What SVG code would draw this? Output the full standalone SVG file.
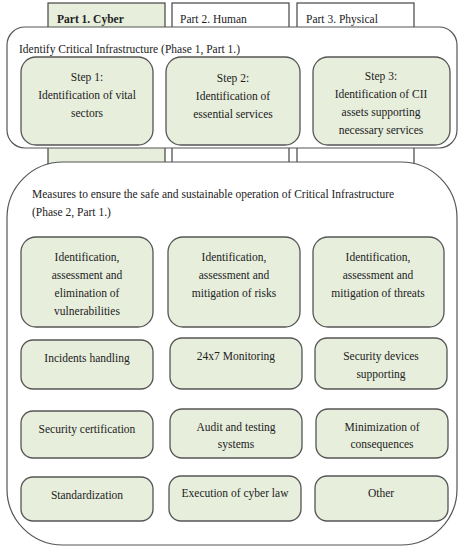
<svg xmlns="http://www.w3.org/2000/svg" width="465" height="550" viewBox="0 0 465 550">
<style>
text{font-family:"Liberation Serif","DejaVu Serif",serif;font-size:11.5px;fill:#222}
.c{text-anchor:middle}
.b{font-weight:bold}
.tab{fill:#fff;stroke:#444;stroke-width:1.2}
.tabg{fill:#e7eedc;stroke:#444;stroke-width:1.2}
.frame{fill:#fff;stroke:#555;stroke-width:1.2}
.box{fill:#e7eedc;stroke:#555;stroke-width:1.3}
</style>
<rect width="465" height="550" fill="#fff"/>
<g id="tabs">
<g id="tab1"><rect class="tabg" x="48" y="3" width="117" height="165"/><text class="b" x="57" y="23">Part 1. Cyber</text></g>
<g id="tab2"><rect class="tab" x="172" y="3" width="117" height="165"/><text x="180" y="23">Part 2. Human</text></g>
<g id="tab3"><rect class="tab" x="297" y="3" width="117" height="165"/><text x="306" y="23">Part 3. Physical</text></g>
</g>
<g id="phase1">
<rect class="frame" x="7" y="27" width="450" height="121" rx="18"/>
<text x="19" y="53">Identify Critical Infrastructure (Phase 1, Part 1.)</text>
</g>
<g id="step1"><rect class="box" x="21" y="57" width="132" height="88" rx="15"/>
<text class="c" x="87" y="81">Step 1:</text><text class="c" x="87" y="99">Identification of vital</text><text class="c" x="87" y="117">sectors</text></g>
<g id="step2"><rect class="box" x="166" y="57" width="134" height="88" rx="15"/>
<text class="c" x="233" y="82">Step 2:</text><text class="c" x="233" y="100">Identification of</text><text class="c" x="233" y="118">essential services</text></g>
<g id="step3"><rect class="box" x="313" y="57" width="137" height="88" rx="15"/>
<text class="c" x="381" y="80">Step 3:</text><text class="c" x="381" y="98">Identification of CII</text><text class="c" x="381" y="116">assets supporting</text><text class="c" x="381" y="134">necessary services</text></g>
<g id="phase2">
<rect class="frame" x="7" y="162" width="450" height="383" rx="56"/>
<text x="32" y="198">Measures to ensure the safe and sustainable operation of Critical Infrastructure</text>
<text x="32" y="216">(Phase 2, Part 1.)</text>
</g>
<g id="m1"><rect class="box" x="21" y="237" width="132" height="90" rx="15"/>
<text class="c" x="87" y="261">Identification,</text><text class="c" x="87" y="279">assessment and</text><text class="c" x="87" y="297">elimination of</text><text class="c" x="87" y="315">vulnerabilities</text></g>
<g id="m2"><rect class="box" x="168" y="237" width="132" height="90" rx="15"/>
<text class="c" x="234" y="261">Identification,</text><text class="c" x="234" y="279">assessment and</text><text class="c" x="234" y="297">mitigation of risks</text></g>
<g id="m3"><rect class="box" x="313" y="237" width="131" height="90" rx="15"/>
<text class="c" x="378" y="261">Identification,</text><text class="c" x="378" y="279">assessment and</text><text class="c" x="378" y="297">mitigation of threats</text></g>
<g id="m4"><rect class="box" x="21" y="340" width="132" height="49" rx="12"/>
<text class="c" x="87" y="362">Incidents handling</text></g>
<g id="m5"><rect class="box" x="170" y="338" width="132" height="51" rx="12"/>
<text class="c" x="236" y="360">24x7 Monitoring</text></g>
<g id="m6"><rect class="box" x="315" y="338" width="132" height="51" rx="12"/>
<text class="c" x="381" y="360">Security devices</text><text class="c" x="381" y="378">supporting</text></g>
<g id="m7"><rect class="box" x="21" y="411" width="132" height="47" rx="12"/>
<text class="c" x="87" y="433">Security certification</text></g>
<g id="m8"><rect class="box" x="170" y="409" width="132" height="49" rx="12"/>
<text class="c" x="236" y="431">Audit and testing</text><text class="c" x="236" y="448">systems</text></g>
<g id="m9"><rect class="box" x="316" y="409" width="132" height="49" rx="12"/>
<text class="c" x="382" y="431">Minimization of</text><text class="c" x="382" y="448">consequences</text></g>
<g id="m10"><rect class="box" x="21" y="477" width="132" height="44" rx="12"/>
<text class="c" x="87" y="499">Standardization</text></g>
<g id="m11"><rect class="box" x="169" y="476" width="132" height="45" rx="12"/>
<text class="c" x="235" y="497">Execution of cyber law</text></g>
<g id="m12"><rect class="box" x="315" y="476" width="133" height="45" rx="12"/>
<text class="c" x="381" y="497">Other</text></g>
<g id="connectors"></g>
</svg>
